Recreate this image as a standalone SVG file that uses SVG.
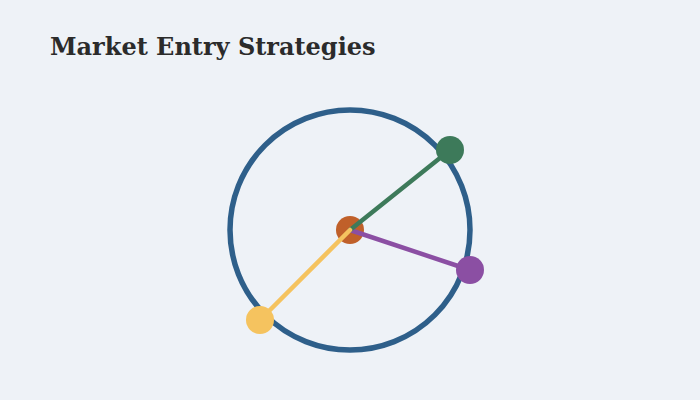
<svg xmlns="http://www.w3.org/2000/svg" width="700" height="400" viewBox="0 0 700 400">
<style>
.title{font-family:"DejaVu Serif","Liberation Serif",serif;font-weight:bold;font-size:24px;fill:#2b2b2b}
.edge{stroke-width:4.5;fill:none;stroke-linecap:round}
</style>
<rect width="700" height="400" fill="#eef2f7"/>
<text class="title" x="50" y="55">Market Entry Strategies</text>
<g id="ring"><circle cx="350" cy="230" r="120" fill="none" stroke="#2e5f8a" stroke-width="5.5"/></g>
<g id="node-center"><circle cx="350" cy="230" r="14" fill="#c0602a"/></g>
<g id="connectors">
<line class="edge" x1="350" y1="230" x2="470" y2="270" stroke="#8b4fa3"/>
<line class="edge" x1="350" y1="230" x2="450" y2="150" stroke="#3d7a5a"/>
<line class="edge" x1="350" y1="230" x2="260" y2="320" stroke="#f5c35f"/>
</g>
<g id="node-green"><circle cx="450" cy="150" r="14" fill="#3d7a5a"/></g>
<g id="node-purple"><circle cx="470" cy="270" r="14" fill="#8b4fa3"/></g>
<g id="node-yellow"><circle cx="260" cy="320" r="14" fill="#f5c35f"/></g>
</svg>
